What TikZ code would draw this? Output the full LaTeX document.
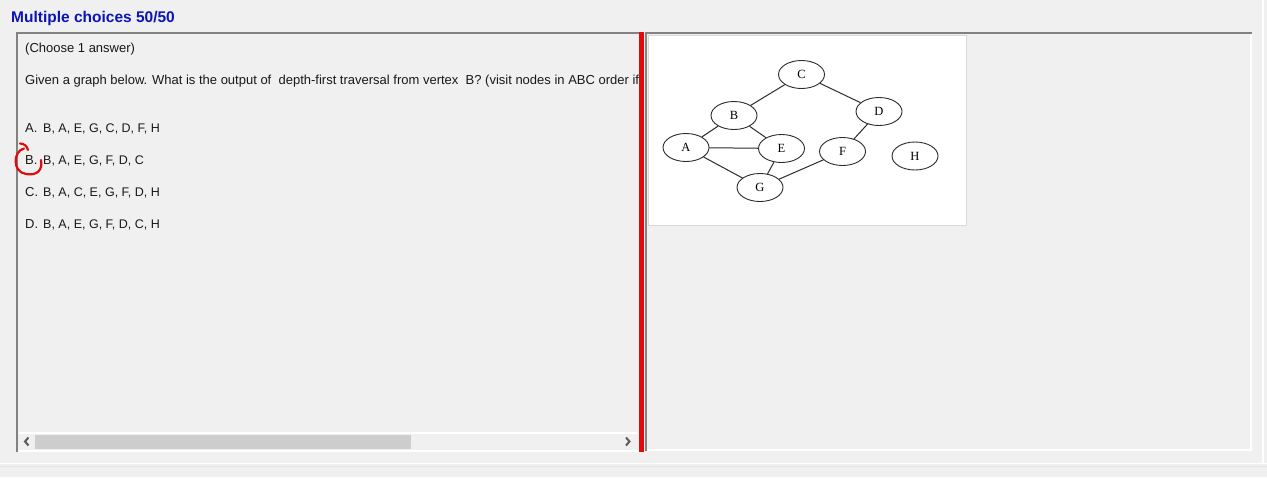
\documentclass[tikz,border=0pt]{standalone}
\usepackage{fontspec}
\setmainfont{Liberation Sans}
\newfontfamily\graphfont{Liberation Serif}
\usepackage{tikz}
\usepackage{xcolor}
\usetikzlibrary{positioning, shapes.geometric}
\definecolor{winbg}{RGB}{240, 240, 240}
\definecolor{winborder}{RGB}{130, 130, 130}
\definecolor{titleblue}{RGB}{10, 20, 185}
\definecolor{markred}{RGB}{225, 10, 10}
\definecolor{thumbgray}{RGB}{205, 205, 205}
\definecolor{edgegray}{RGB}{45, 45, 45}
\tikzset{
    vertex/.style={ellipse, draw=edgegray, line width=0.9pt, fill=white, minimum width=46pt, minimum height=28pt, inner sep=0pt, font=\graphfont\fontsize{12.5}{12}\selectfont},
    edge/.style={draw=edgegray, line width=1pt},
    uitext/.style={anchor=base west, inner sep=0pt, text=black!90, font=\fontsize{13}{15}\selectfont},
    anstext/.style={uitext, font=\fontsize{12.5}{15}\selectfont},
    paneline/.style={draw=winborder, line width=2pt},
    lightline/.style={draw=white, line width=1.2pt},
    chevron/.style={draw=black!65, line width=2pt}
}

\begin{document}
\begin{tikzpicture}[x=1pt, y=-1pt]
    \fill[winbg] (0,0) rectangle (1267,477);
    \useasboundingbox (0,0) rectangle (1267,477);

    \node[uitext, text=titleblue, font=\bfseries\fontsize{15.5}{17}\selectfont] (title) at (11,22) {Multiple choices 50/50};

    % panels
    \draw[lightline] (17,451) -- (639,451);
    \draw[paneline] (17,452) -- (17,33) -- (640,33);
    \draw[lightline] (1251,34) -- (1251,450) -- (646,450);
    \draw[paneline] (645.5,451) -- (645.5,33) -- (1252,33);
    \draw[lightline] (1263,0) -- (1263,463);
    \draw[white, line width=1.5pt] (0,463.5) -- (1267,463.5);
    \draw[black!10, line width=1pt] (0,466.5) -- (1267,466.5);
    \fill[markred] (639,32) rectangle (643.5,452);

    % scrollbar
    \draw[lightline] (19,433) -- (637,433);
    \fill[thumbgray] (35,434.5) rectangle (411,448.5);
    \draw[chevron] (28.5,437.5) -- (25,441.5) -- (28.5,445.5);
    \draw[chevron] (626,437.5) -- (629.5,441.5) -- (626,445.5);

    % question and answers
    \begin{scope}
        \clip (18,34) rectangle (638,432);
        \node[uitext] (choose) at (25,52) {(Choose 1 answer)};
        \node[uitext] (question) at (25,84) {Given a graph below. What is the output of\ \ depth-first traversal from vertex\ \ B? (visit nodes in ABC order if there are many choices)};
        \node[uitext] (optA) at (25,132) {A.};
        \node[anstext] (ansA) at (43,132) {B, A, E, G, C, D, F, H};
        \node[uitext] (optB) at (25,164) {B.};
        \node[anstext] (ansB) at (43,164) {B, A, E, G, F, D, C};
        \node[uitext] (optC) at (25,196) {C.};
        \node[anstext] (ansC) at (43,196) {B, A, C, E, G, F, D, H};
        \node[uitext] (optD) at (25,228) {D.};
        \node[anstext] (ansD) at (43,228) {B, A, E, G, F, D, C, H};
    \end{scope}
    \draw[markred, line width=2.2pt, line cap=round] (20,143.5) .. controls (24,143.5) and (27,146) .. (28,150);
    \draw[markred, line width=2.2pt, line cap=round] (24,148.5) .. controls (13,151) and (12,172) .. (26,174) .. controls (37,176) and (43,170) .. (41,160);

    % graph image
    \draw[fill=white, draw=black!15] (648,35) rectangle (966.5,225);
    \node[vertex] (C) at (801.5,74.5) {C};
    \node[vertex] (B) at (734,115.5) {B};
    \node[vertex] (D) at (879,111.5) {D};
    \node[vertex] (A) at (686,147.5) {A};
    \node[vertex] (E) at (781.5,148.5) {E};
    \node[vertex] (F) at (842.5,151.5) {F};
    \node[vertex] (H) at (915,156) {H};
    \node[vertex] (G) at (760,187.5) {G};
    \draw[edge] (C) -- (B);
    \draw[edge] (C) -- (D);
    \draw[edge] (B) -- (A);
    \draw[edge] (B) -- (E);
    \draw[edge] (A) -- (E);
    \draw[edge] (A) -- (G);
    \draw[edge] (E) -- (G);
    \draw[edge] (D) -- (F);
    \draw[edge] (F) -- (G);
\end{tikzpicture}
\end{document}
